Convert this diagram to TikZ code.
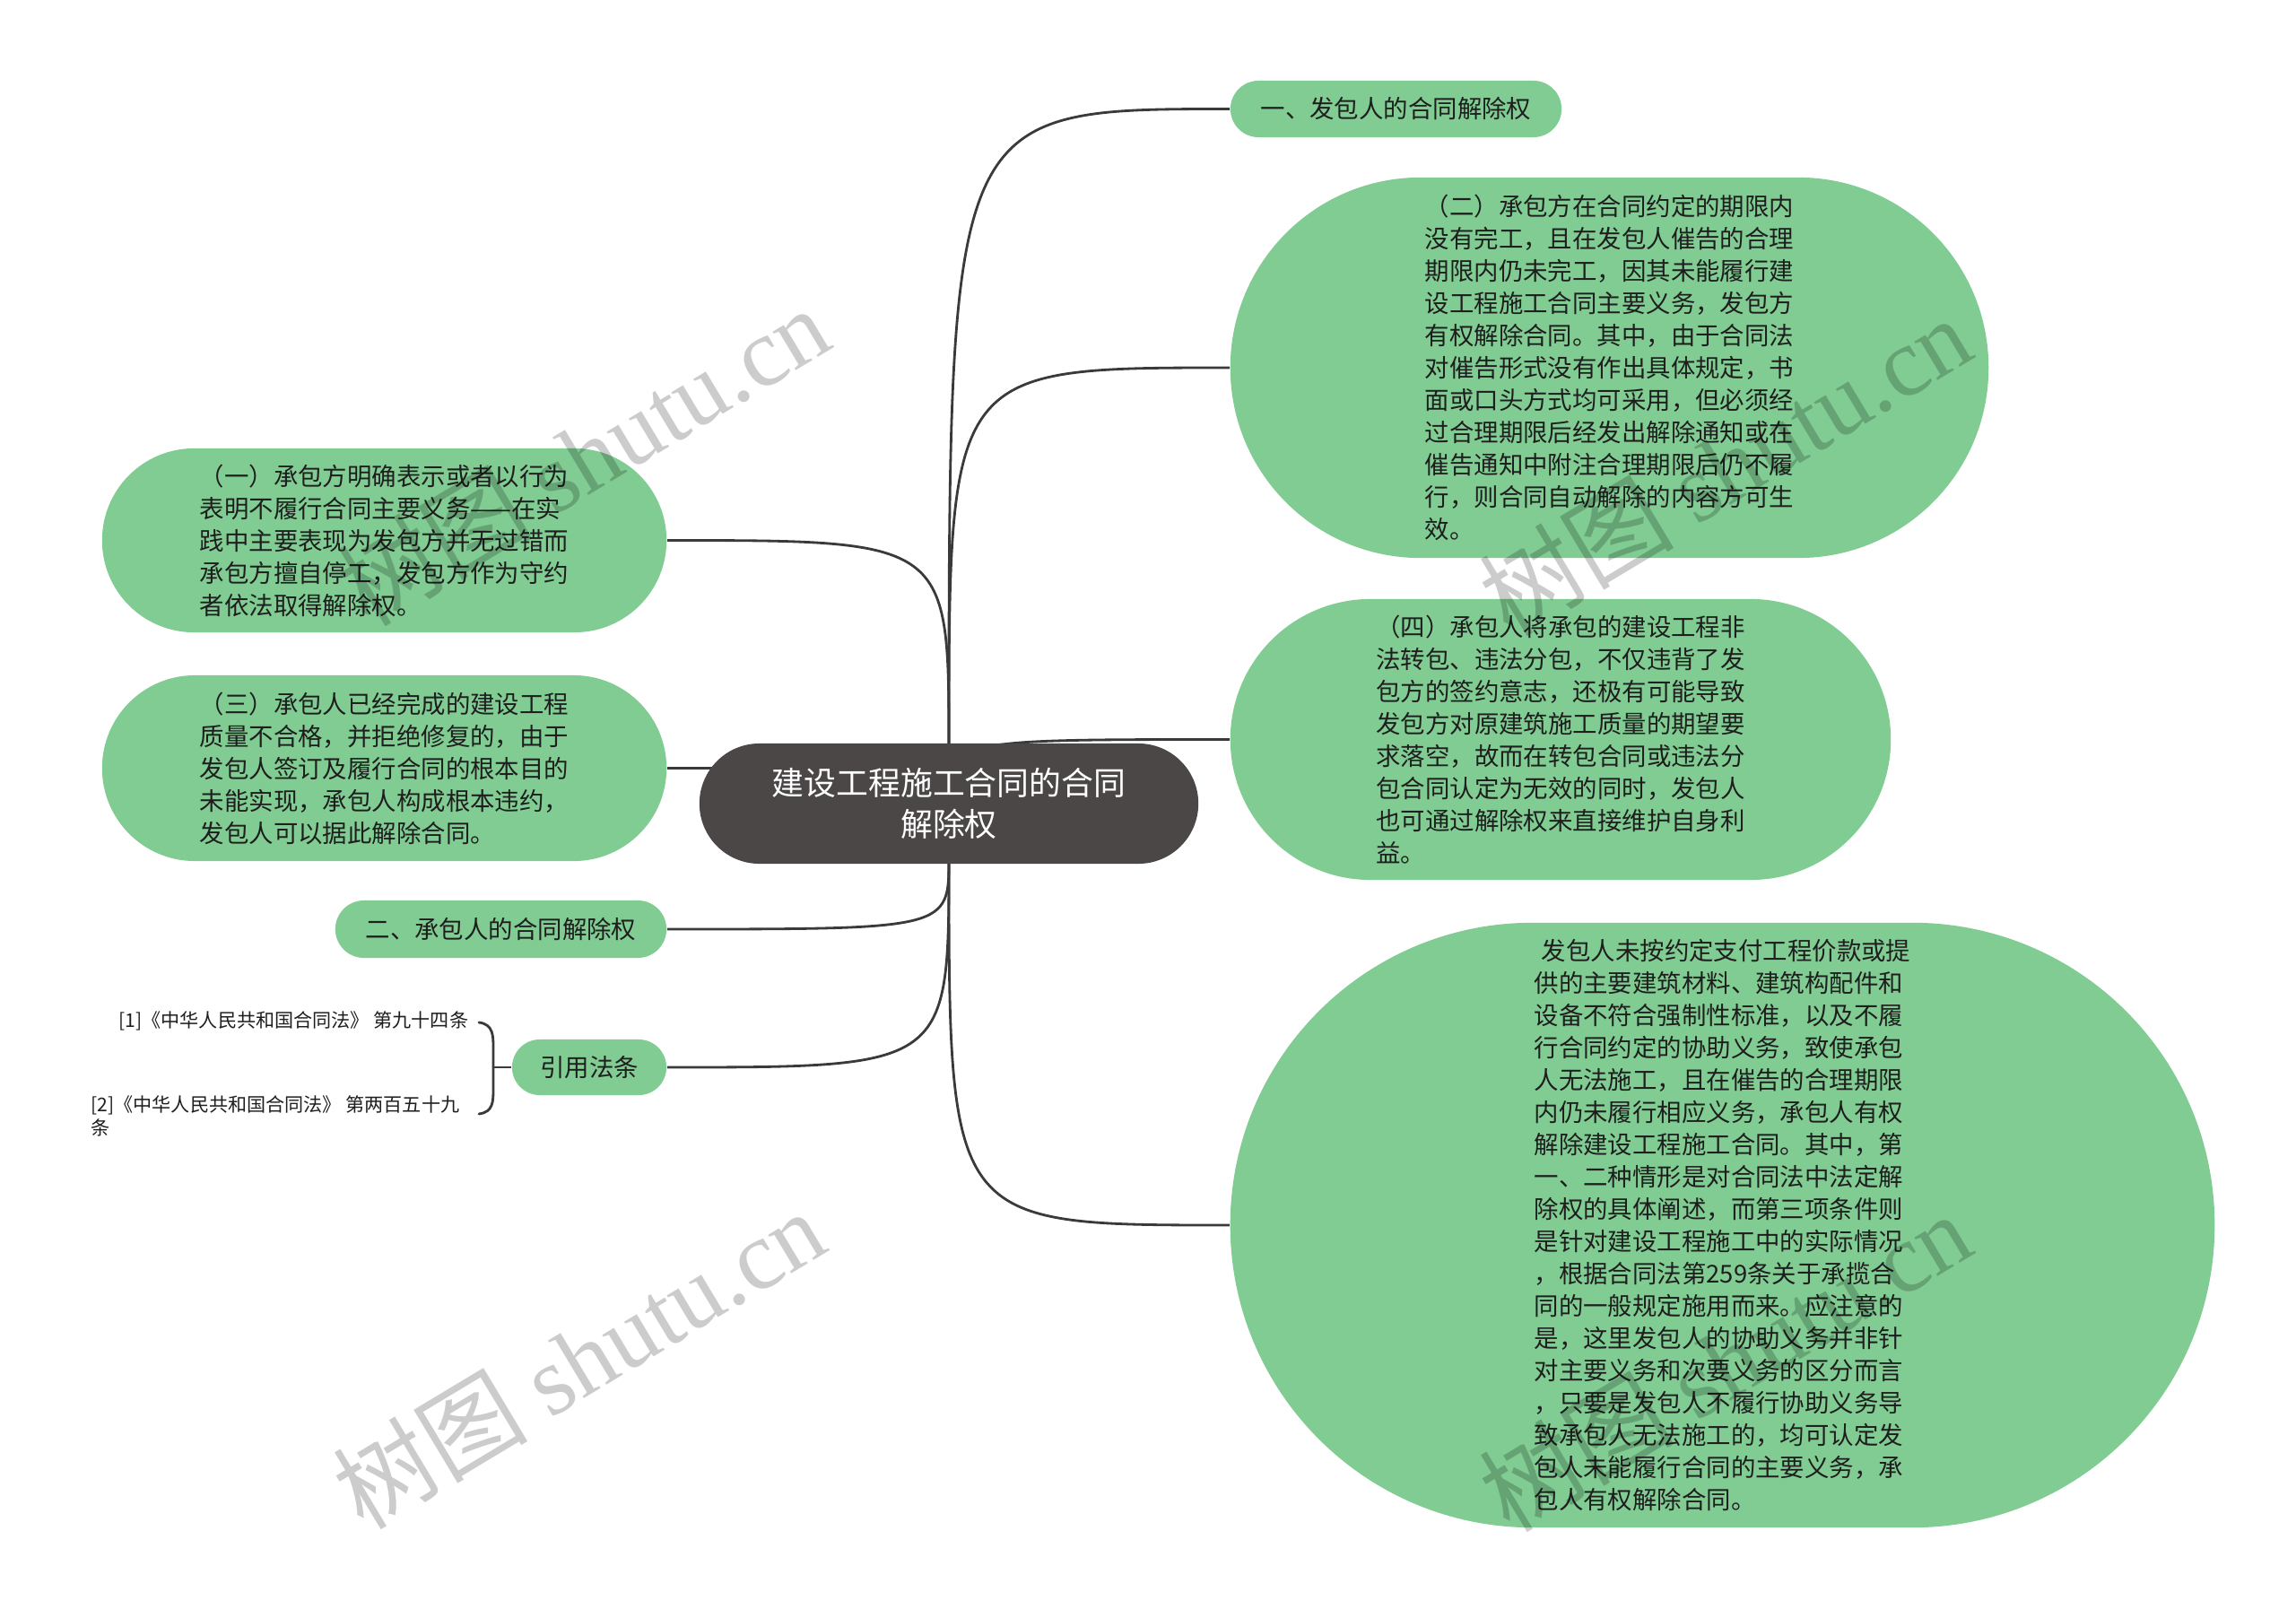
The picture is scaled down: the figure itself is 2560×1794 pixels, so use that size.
\documentclass[tikz,border=0pt]{standalone}
\usepackage{fontspec}
\setmainfont{Noto Sans CJK SC}
\newfontfamily\wmlatin{Liberation Serif}
\usetikzlibrary{backgrounds}
\definecolor{leaf}{HTML}{80CC92}
\definecolor{rootc}{HTML}{4B4747}
\definecolor{linec}{HTML}{3A3A3A}
\definecolor{txt}{HTML}{1E1E1E}
\begin{document}
\begin{tikzpicture}[x=0.01cm,y=-0.01cm,
  leafbox/.style={draw=none, fill=leaf, text=txt, inner sep=0pt, align=left,
    font=\fontsize{7.8}{10.24}\selectfont},
  rootbox/.style={draw=none, fill=rootc, text=white, inner sep=0pt, align=center,
    font=\fontsize{10.2}{13}\selectfont},
  reftext/.style={inner sep=0pt, text=txt, align=left, font=\fontsize{6}{7.4}\selectfont},
  conn/.style={draw=linec, line width=0.8pt},
  wmark/.style={rotate=31, text=black, opacity=0.2, font=\fontsize{31}{33}\selectfont}]
\useasboundingbox (0,0) rectangle (2560,1794);

% root
\node[rootbox, minimum width=5.56cm, minimum height=1.34cm, rounded corners=0.669cm] (root) at (1058,896)
  {建设工程施工合同的合同\\解除权};
\coordinate (rt) at (1058,835);
\coordinate (rb) at (1058,957);

% right side
\node[leafbox, align=center, minimum width=3.69cm, minimum height=0.63cm, rounded corners=0.314cm] (n1) at (1556.5,121.5)
  {一、发包人的合同解除权};
\node[leafbox, minimum width=8.45cm, minimum height=4.24cm, rounded corners=2.118cm] (n2) at (1794.5,410)
  {（二）承包方在合同约定的期限内\\
   没有完工，且在发包人催告的合理\\
   期限内仍未完工，因其未能履行建\\
   设工程施工合同主要义务，发包方\\
   有权解除合同。其中，由于合同法\\
   对催告形式没有作出具体规定，书\\
   面或口头方式均可采用，但必须经\\
   过合理期限后经发出解除通知或在\\
   催告通知中附注合理期限后仍不履\\
   行，则合同自动解除的内容方可生\\
   效。};
\node[leafbox, minimum width=7.36cm, minimum height=3.13cm, rounded corners=1.563cm] (n4) at (1740,824.5)
  {（四）承包人将承包的建设工程非\\
   法转包、违法分包，不仅违背了发\\
   包方的签约意志，还极有可能导致\\
   发包方对原建筑施工质量的期望要\\
   求落空，故而在转包合同或违法分\\
   包合同认定为无效的同时，发包人\\
   也可通过解除权来直接维护自身利\\
   益。};
\node[leafbox, minimum width=10.97cm, minimum height=6.74cm, rounded corners=3.368cm] (n5) at (1920.5,1366)
  {\hspace{0.3em}发包人未按约定支付工程价款或提\\
   供的主要建筑材料、建筑构配件和\\
   设备不符合强制性标准，以及不履\\
   行合同约定的协助义务，致使承包\\
   人无法施工，且在催告的合理期限\\
   内仍未履行相应义务，承包人有权\\
   解除建设工程施工合同。其中，第\\
   一、二种情形是对合同法中法定解\\
   除权的具体阐述，而第三项条件则\\
   是针对建设工程施工中的实际情况\\
   ，根据合同法第259条关于承揽合\\
   同的一般规定施用而来。应注意的\\
   是，这里发包人的协助义务并非针\\
   对主要义务和次要义务的区分而言\\
   ，只要是发包人不履行协助义务导\\
   致承包人无法施工的，均可认定发\\
   包人未能履行合同的主要义务，承\\
   包人有权解除合同。};

% left side
\node[leafbox, minimum width=6.29cm, minimum height=2.05cm, rounded corners=1.024cm] (l1) at (428.5,602.5)
  {（一）承包方明确表示或者以行为\\
   表明不履行合同主要义务——在实\\
   践中主要表现为发包方并无过错而\\
   承包方擅自停工，发包方作为守约\\
   者依法取得解除权。};
\node[leafbox, minimum width=6.29cm, minimum height=2.07cm, rounded corners=1.034cm] (l3) at (428.5,856.5)
  {（三）承包人已经完成的建设工程\\
   质量不合格，并拒绝修复的，由于\\
   发包人签订及履行合同的根本目的\\
   未能实现，承包人构成根本违约，\\
   发包人可以据此解除合同。};
\node[leafbox, align=center, minimum width=3.69cm, minimum height=0.64cm, rounded corners=0.319cm] (l2) at (558.5,1036)
  {二、承包人的合同解除权};
\node[leafbox, align=center, minimum width=1.72cm, minimum height=0.62cm, rounded corners=0.309cm] (cite) at (657,1190)
  {引用法条};

% references
\node[reftext, anchor=west] (r1) at (132,1138) {[1]《中华人民共和国合同法》 第九十四条};
\node[reftext, anchor=west] (r2) at (101,1244) {[2]《中华人民共和国合同法》 第两百五十九\\条};

% background and connectors
\begin{pgfonlayer}{background}
\fill[white] (0,0) rectangle (2560,1794);
\draw[conn] (rt) .. controls (rt |- n1.west) .. (n1.west);
\draw[conn] (rt) .. controls (rt |- n2.west) .. (n2.west);
\draw[conn] (root.center) .. controls (root.center |- n4.west) .. (n4.west);
\draw[conn] (rb) .. controls (rb |- n5.west) .. (n5.west);
\draw[conn] (rt) .. controls (rt |- l1.east) .. (l1.east);
\draw[conn] (root.center) .. controls (root.center |- l3.east) .. (l3.east);
\draw[conn] (rb) .. controls (rb |- l2.east) .. (l2.east);
\draw[conn] (rb) .. controls (rb |- cite.east) .. (cite.east);
\end{pgfonlayer}

% bracket
\coordinate (bt) at (534,1140);
\coordinate (bb) at (534,1242);
\coordinate (bm) at (550,1190);
\draw[conn, line cap=round] (bt) .. controls (550,1142) and (550,1155) .. (550,1168) -- (550,1214)
  .. controls (550,1228) and (550,1240) .. (bb);
\draw[conn] (bm) -- (cite.west);

% watermarks
\node[wmark] (wm1) at (650,508) {树图 {\wmlatin shutu.cn}};
\node[wmark] (wm2) at (1923,519) {树图 {\wmlatin shutu.cn}};
\node[wmark] (wm3) at (645,1515) {树图 {\wmlatin shutu.cn}};
\node[wmark] (wm4) at (1923,1518) {树图 {\wmlatin shutu.cn}};
\end{tikzpicture}
\end{document}
